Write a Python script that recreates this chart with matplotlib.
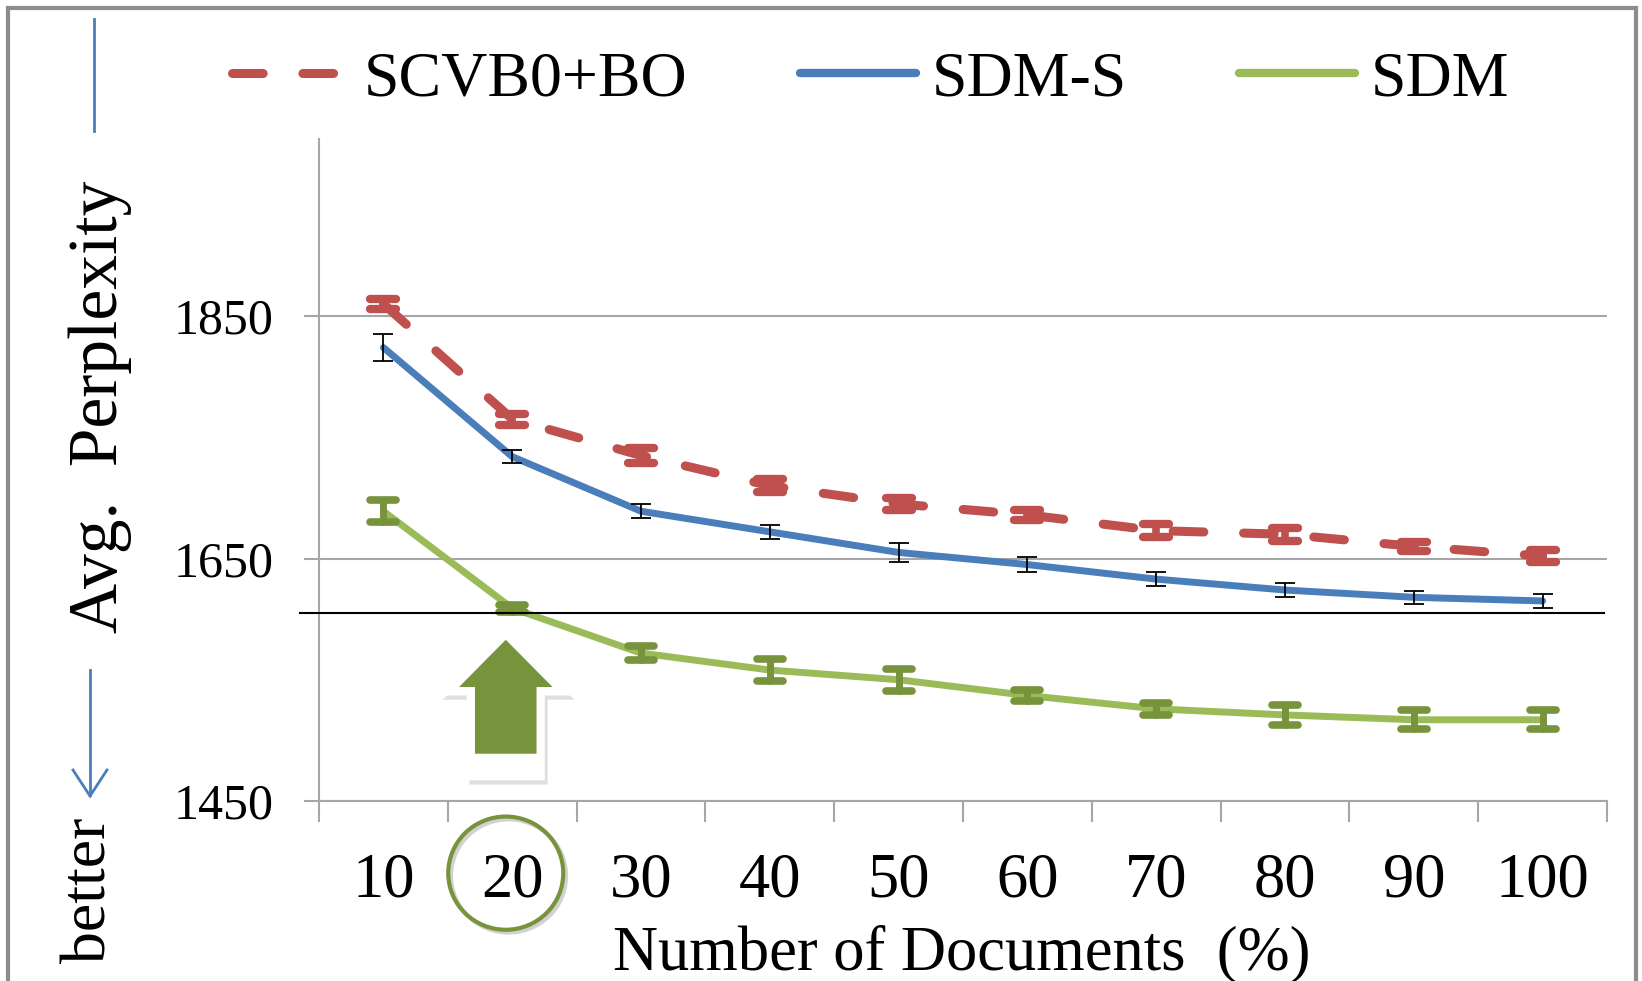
import numpy as np
import matplotlib.pyplot as plt
import matplotlib.patheffects as pe
from matplotlib.lines import Line2D
from matplotlib.markers import MarkerStyle
from matplotlib.patches import Polygon, Ellipse, Rectangle
from matplotlib.transforms import blended_transform_factory

plt.rcParams['font.family'] = ['Liberation Serif', 'DejaVu Serif']

# Avg. perplexity vs share of documents used
docs_pct = [10, 20, 30, 40, 50, 60, 70, 80, 90, 100]
scvb0_bo = [1860, 1765, 1735, 1710, 1695, 1686, 1673, 1670, 1660, 1652]
scvb0_bo_err = [4, 4.5, 6, 5.5, 5, 4, 5.5, 5.5, 4, 5]
sdm_s = [1824, 1734, 1689, 1672, 1655, 1645, 1633, 1624, 1618, 1615]
sdm_s_err = [11.5, 5.5, 6, 6, 7.5, 6, 6, 6, 5.5, 6]
sdm = [1689, 1609, 1572, 1558, 1550, 1537, 1526, 1521, 1517, 1517]
sdm_err = [9, 3, 6, 9, 9, 4.5, 5, 8.5, 8, 8]
ref_level = 1605
y_ticks = [1450, 1650, 1850]
highlight = 20

RED = '#C0504D'
BLUE = '#4A7EBB'
GREEN = '#9BBB59'
DARK_GREEN = '#77933C'
GRAY = '#A6A6A6'

W, H = 1642, 981
fig = plt.figure(figsize=(W / 100, H / 100), dpi=100)
ax = fig.add_axes([319 / W, 1 - 801 / H, (1607 - 319) / W, (801 - 139) / H])

x = np.arange(1, len(docs_pct) + 1)


def round_errorbars(container):
    # rounded ends on the thick error bars
    _, caplines, barcols = container.lines
    for cl in caplines:
        cl.set_marker(MarkerStyle('_', capstyle='round'))
    for bc in barcols:
        bc.set_capstyle('round')


ax.errorbar(x, sdm_s, yerr=sdm_s_err, fmt='none', ecolor='black',
            elinewidth=1.3, capsize=7, capthick=1.3, zorder=4)
ax.plot(x, sdm_s, color=BLUE, lw=5, solid_capstyle='round', zorder=3)

eb = ax.errorbar(x, sdm, yerr=sdm_err, fmt='none', ecolor=DARK_GREEN,
                 elinewidth=5, capsize=9.5, capthick=5.5, zorder=4)
round_errorbars(eb)
ax.plot(x, sdm, color=GREEN, lw=5, solid_capstyle='round', zorder=3)

eb = ax.errorbar(x, scvb0_bo, yerr=scvb0_bo_err, fmt='none', ecolor=RED,
                 elinewidth=5.5, capsize=9.5, capthick=6, zorder=4)
round_errorbars(eb)
ax.plot(x, scvb0_bo, color=RED, lw=6.5, dashes=(3.4, 4.4),
        dash_capstyle='round', zorder=3)

ax.axhline(ref_level, xmin=-0.015, xmax=0.998, color='black', lw=1.5,
           clip_on=False, zorder=5)

ax.set_xlim(0.5, len(docs_pct) + 0.5)
ax.set_ylim(1450, 1996)

ax.set_yticks(y_ticks)
ax.set_yticklabels([str(v) for v in y_ticks], fontsize=36)
ax.grid(axis='y', color=GRAY, lw=1.5)
ax.set_axisbelow(True)

ax.set_xticks(np.arange(0.5, len(docs_pct) + 1, 1))
ax.set_xticklabels([])
ax.set_xticks(x, minor=True)
ax.set_xticklabels([str(v) for v in docs_pct], minor=True, fontsize=45)
ax.tick_params(axis='x', which='major', direction='out', length=15,
               width=1.5, color=GRAY)
ax.tick_params(axis='x', which='minor', length=0, pad=37)
ax.tick_params(axis='y', direction='out', length=11, width=1.5, color=GRAY,
               pad=22)

for side in ['top', 'right']:
    ax.spines[side].set_visible(False)
for side in ['left', 'bottom']:
    ax.spines[side].set_color(GRAY)
    ax.spines[side].set_linewidth(1.5)

fig.text(962 / W, 1 - 969 / H, 'Number of Documents  (%)', fontsize=45,
         ha='center', va='baseline')

# "better" indicator on the left
fig.text(117 / W, 1 - 407 / H, 'Avg.  Perplexity', fontsize=50, rotation=90,
         rotation_mode='anchor', ha='center', va='baseline')
fig.text(105 / W, 1 - 890 / H, 'better', fontsize=46, rotation=90,
         rotation_mode='anchor', ha='center', va='baseline')
fig.add_artist(Line2D([94 / W, 94 / W], [1 - 19 / H, 1 - 131 / H],
                      color=BLUE, lw=2))
fig.add_artist(Line2D([90 / W, 90 / W], [1 - 670 / H, 1 - 795 / H],
                      color=BLUE, lw=2))
fig.add_artist(Line2D([73 / W, 90 / W, 107 / W],
                      [1 - 770 / H, 1 - 796 / H, 1 - 770 / H],
                      color=BLUE, lw=2, solid_joinstyle='miter'))

# highlight marker at the 20% setting
hx = x[docs_pct.index(highlight)] - 0.05
outer = [(hx, 1591), (hx + 0.511, 1537), (hx + 0.303, 1537), (hx + 0.303, 1467),
         (hx - 0.303, 1467), (hx - 0.303, 1537), (hx - 0.511, 1537)]
inner = [(hx, 1583), (hx + 0.363, 1544), (hx + 0.239, 1544), (hx + 0.239, 1489),
         (hx - 0.239, 1489), (hx - 0.239, 1544), (hx - 0.363, 1544)]
ax.add_patch(Polygon(outer, closed=True, facecolor='white', edgecolor='none',
                     clip_on=False, zorder=6,
                     path_effects=[pe.SimplePatchShadow(offset=(2, -3),
                                                        shadow_rgbFace='gray',
                                                        alpha=0.25),
                                   pe.Normal()]))
ax.add_patch(Polygon(inner, closed=True, facecolor=DARK_GREEN,
                     edgecolor='none', clip_on=False, zorder=7))

trans = blended_transform_factory(ax.transData, ax.transAxes)
ax.add_patch(Ellipse((hx, -0.109), 0.893, 0.171, transform=trans,
                     fill=False, edgecolor=DARK_GREEN, lw=3, clip_on=False,
                     zorder=6,
                     path_effects=[pe.SimpleLineShadow(offset=(2, -2),
                                                       shadow_color='gray',
                                                       alpha=0.35),
                                   pe.Normal()]))

handles = [
    Line2D([], [], color=RED, lw=6.5, dashes=(3.4, 4.4), dash_capstyle='round'),
    Line2D([], [], color=BLUE, lw=6, solid_capstyle='round'),
    Line2D([], [], color=GREEN, lw=6, solid_capstyle='round'),
]
fig.legend(handles, ['SCVB0+BO', 'SDM-S', 'SDM'], loc='center left',
           bbox_to_anchor=(232 / W, 1 - 80 / H), ncol=3, frameon=False,
           fontsize=46, handlelength=1.82, handletextpad=0.25,
           columnspacing=1.75, borderpad=0, borderaxespad=0)

fig.add_artist(Rectangle((8 / W, -0.1), 1628 / W, 1.1 - 8 / H,
                         transform=fig.transFigure, fill=False,
                         edgecolor='#8C8C8C', lw=3))

fig.savefig('out.png', dpi=100)
